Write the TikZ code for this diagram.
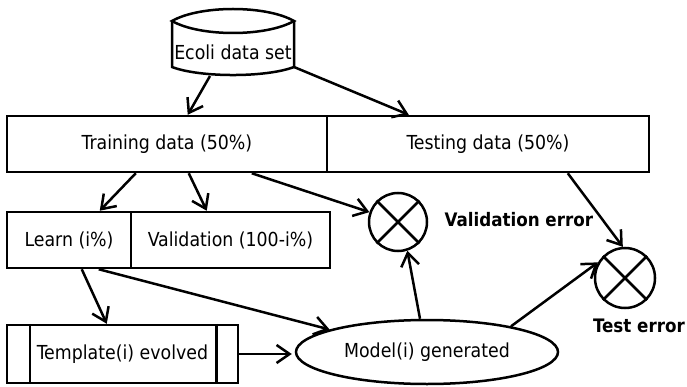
\documentclass[tikz,border=0pt]{standalone}
\usepackage{fontspec}
\setmainfont{DejaVu Sans Condensed}
\usetikzlibrary{arrows.meta,shapes.geometric,calc}
\begin{document}
\begin{tikzpicture}[x=1pt,y=-1pt, line width=2.5pt,
  txt/.style={font=\fontsize{19.3}{22}\selectfont},
  box/.style={draw, rectangle, inner sep=0pt, txt},
  arr/.style={-{Straight Barb[length=13pt,width=18pt]}, line width=2.5pt},
  xcirc/.style={draw, circle, inner sep=0pt},
  lbl/.style={font=\fontsize{18.6}{22}\selectfont\bfseries}]
\useasboundingbox (0,0) rectangle (687,387);
% data set shape
\draw (172,21) .. controls (200,5) and (266,5) .. (294,21)
      .. controls (266,37) and (200,37) .. (172,21) -- cycle;
\draw (172,21) -- (172,67) .. controls (200,77.7) and (266,77.7) .. (294,67) -- (294,21);
\node[txt] (ecoli) at (233,52) {Ecoli data set};
% boxes
\node[box, minimum width=320pt, minimum height=56pt] (training) at (167,144) {Training data (50\%)};
\node[box, minimum width=322pt, minimum height=56pt] (testing) at (488,144) {Testing data (50\%)};
\node[box, minimum width=124pt, minimum height=56pt] (learn) at (69,240) {Learn (i\%)};
\node[box, minimum width=199pt, minimum height=56pt] (validation) at (230.5,240) {Validation (100-i\%)};
\node[box, minimum width=231pt, minimum height=58pt] (template) at (122.5,354) {Template(i) evolved};
\draw ([xshift=24pt]template.north west) -- ([xshift=24pt]template.south west);
\draw ([xshift=-23pt]template.north east) -- ([xshift=-23pt]template.south east);
\node[draw, ellipse, inner sep=0pt, minimum width=262pt, minimum height=64pt, txt] (model) at (427,352) {Model(i) generated};
% error circles
\node[xcirc, minimum size=58pt] (valerr) at (398,222) {};
\draw (valerr.north west) -- (valerr.south east) (valerr.north east) -- (valerr.south west);
\node[xcirc, minimum size=60pt] (testerr) at (625,278) {};
\draw (testerr.north west) -- (testerr.south east) (testerr.north east) -- (testerr.south west);
\node[lbl, anchor=west] (vlabel) at (440,220) {Validation error};
\node[lbl] (tlabel) at (639,326) {Test error};
% connectors
\draw[arr] ($(ecoli)+(-23,24)$) -- ($(training.north west)+(182,0)$);
\draw[arr] ($(ecoli)+(61,15)$) -- ($(testing.north west)+(83,0)$);
\draw[arr] ($(training.south west)+(130,0)$) -- ($(learn.north west)+(94,0)$);
\draw[arr] ($(training.south west)+(183,0)$) -- ($(validation.north west)+(77,0)$);
\draw[arr] ($(training.south west)+(246,0)$) -- (valerr.161);
\draw[arr] ($(testing.south west)+(242,0)$) -- (testerr.94);
\draw[arr] ($(learn.south west)+(76,0)$) -- ($(template.north west)+(101,0)$);
\draw[arr] ($(learn.south west)+(93,0)$) -- (model.167);
\draw[arr] (template.east) -- ([xshift=-3pt]template.east -| model.west);
\draw[arr] ($(model.north)+(-7,0)$) -- (valerr.-72);
\draw[arr] (model.17) -- (testerr.150);
\end{tikzpicture}
\end{document}
